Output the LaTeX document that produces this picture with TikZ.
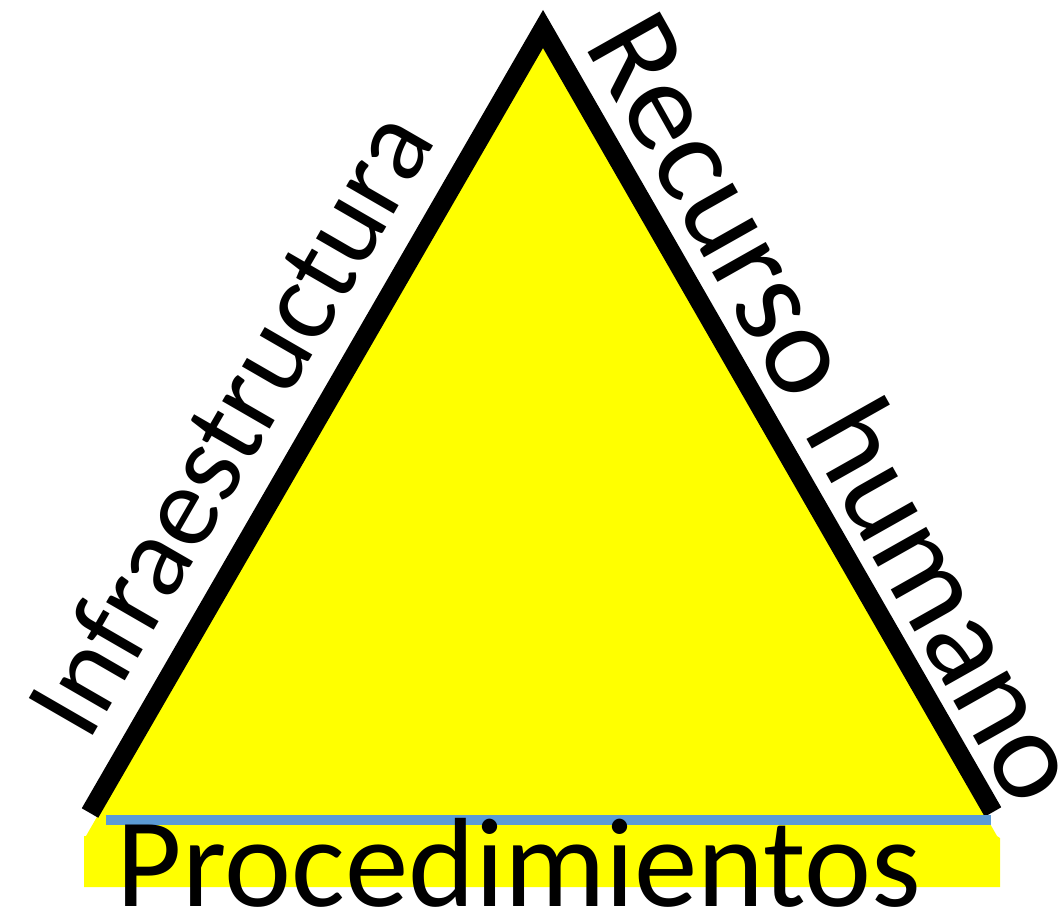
\documentclass[tikz,border=0pt]{standalone}
\usepackage{fontspec}
\setmainfont{Carlito}
\definecolor{triyellow}{RGB}{255,255,0}
\definecolor{baseblue}{RGB}{91,155,213}
\begin{document}
\begin{tikzpicture}[x=1pt,y=-1pt,
  sidelabel/.style={inner sep=0pt,anchor=base},
  baselabel/.style={inner sep=0pt,anchor=base,font=\fontsize{127}{132}\selectfont}]
\useasboundingbox (0,0) rectangle (1060,913);
\coordinate (apex) at (543,29);
\coordinate (bl) at (90,813);
\coordinate (br) at (993,812);
% yellow body
\fill[triyellow] (543,40) -- (86,836) -- (84,836) -- (84,887) -- (1000,887) -- (1000,838) -- (997,836) -- cycle;
% black sides
\draw[line width=19pt,line join=miter,miter limit=10] (bl) -- (apex) -- (br);
% blue base line
\coordinate (b1) at (106,820);
\coordinate (b2) at (991,820);
\draw[baseblue,line width=10pt] (b1) -- (b2);
% labels
\node[sidelabel,rotate=60,font=\fontsize{115}{120}\selectfont] (infra) at (263,442) {Infraestructura};
\node[sidelabel,rotate=-60.6,font=\fontsize{129}{134}\selectfont] (recurso) at (800,428) {Recurso humano};
\node[baselabel] (proc) at (519,906) {Procedimientos};
\end{tikzpicture}
\end{document}
